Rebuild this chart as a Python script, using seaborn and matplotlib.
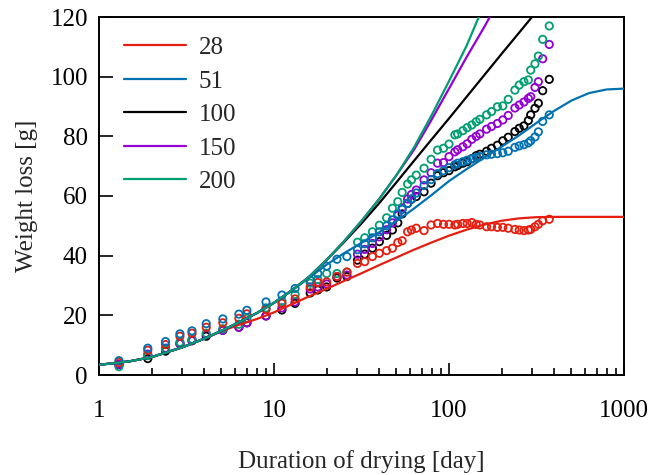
import numpy as np
import pandas as pd
import matplotlib
matplotlib.use("Agg")
import matplotlib.pyplot as plt
import seaborn as sns

# ---------------- data ----------------
series_names = ["28", "51", "100", "150", "200"]
colors = {"28": "#e51e10", "51": "#0072b2", "100": "#000000",
          "150": "#9400d3", "200": "#009e73"}

days = [1.3, 1.9, 2.4, 2.9, 3.4, 4.1, 5.1, 6.3, 7.0, 9.0, 11.1, 13.2, 16.1, 17.8, 20.0,
        22.9, 26.1, 30, 33, 36.5, 40, 44, 47.5, 51, 54,
        58, 61, 65, 72, 79, 86, 93, 100, 108, 112,
        120, 127, 135, 143, 150, 164, 175, 189, 203, 218,
        238, 252, 268, 284, 293, 310, 324, 343, 374]

meas_28 = [4.2, 8.3, 10.2, 13.0, 14.0, 16.0, 17.5, 19.0, 20.5, 22.0, 24.0, 25.5, 29.5, 31.0, 31.2,
           33, 34.5, 37.4, 38, 39.7, 40.8, 41.7, 42.5, 44.4, 45,
           48, 48.6, 49.2, 48.4, 50.3, 50.8, 50.5, 50.5, 50.3, 50.5,
           50.8, 50.8, 51.1, 50.5, 50.3, 49.7, 49.7, 49.5, 49.5, 49.2,
           48.8, 48.6, 48.4, 48.6, 48.8, 49.7, 50.5, 51.7, 52.2]
meas_51 = [4.8, 9.0, 11.2, 13.8, 14.8, 17.2, 18.8, 20.4, 21.7, 24.5, 26.8, 29.0, 31.8, 34.0, 36.5,
           38.8, 39.7, 42, 44, 46, 48, 50, 52, 54, 55.5,
           57.5, 59, 61, 63.5, 65.5, 67.5, 68.5, 69.5, 70.5, 71,
           71.5, 72, 72.5, 73, 73.2, 73.8, 74, 74.2, 74.5, 75,
           76.3, 76.8, 77.2, 77.8, 78.5, 79.8, 81.5, 85, 87.2]
meas_100 = [3.5, 5.5, 8.0, 10.5, 11.5, 13.0, 15.0, 16.0, 17.5, 19.8, 21.8, 24.0, 27.5, 28.5, 29.5,
            32.5, 33, 38.5, 40.5, 42.5, 44.7, 46.8, 48.6, 51, 54,
            57.5, 58.9, 59.8, 61.4, 64.3, 66.8, 67.8, 68.5, 69.8, 70.2,
            71, 71.5, 72.5, 73.5, 74, 75, 76, 77, 78.5, 79.7,
            81.6, 82.7, 83.5, 85.3, 87.2, 89.4, 91.1, 95.3, 99.1]
meas_150 = [3.5, 7.0, 9.0, 10.5, 11.5, 13.5, 15.0, 16.0, 17.5, 19.8, 22.5, 24.5, 28.8, 29.5, 30.5,
            33, 33.5, 40.5, 42.1, 44.1, 46.3, 48.7, 51, 53.5, 56,
            59, 60.5, 62, 65.4, 67.8, 71, 71.2, 73.2, 74.8, 75.5,
            76.5, 77.5, 79, 80, 80.8, 82.4, 83.3, 84.3, 85.5, 87,
            89.5, 90.5, 91.5, 92.7, 93.3, 96.4, 98.3, 106, 110.8]
meas_200 = [2.8, 6.5, 8.5, 11.0, 12.0, 14.0, 15.5, 17.0, 19.0, 22.5, 24.8, 27.0, 30.8, 32.0, 34.0,
            34, 34.5, 44.5, 46, 48, 50.2, 52.7, 55.9, 58.1, 61.2,
            64, 65.4, 67, 69.3, 72.3, 75.4, 76, 77.4, 80.5, 80.8,
            81.9, 82.9, 83.8, 84.9, 85.7, 87.2, 88.3, 89.9, 90.2, 92.4,
            95.5, 97.2, 98.3, 98.9, 102.2, 104.3, 106.9, 112.5, 117]

# model curves
model_x_28 = [1, 1.5, 2, 3, 4, 5, 6, 7, 8, 10, 12.6, 15.8, 20, 25.1, 31.6, 39.8, 50.1, 63.1, 79.4,
              100, 125.9, 158.5, 199.5, 251.2, 316.2, 398.1, 1000]
model_y_28 = [3.4, 4.6, 6.0, 9.3, 12.2, 14.6, 16.4, 17.7, 18.8, 21.0, 23.7, 26.3, 28.9, 31.5, 34.1, 36.8, 39.4, 42.0, 44.4,
              46.7, 48.7, 50.4, 51.7, 52.5, 52.9, 53.0, 53.0]
model_x_51 = [1, 1.5, 2, 3, 4, 5, 6, 8, 10, 12.6, 15.8, 20, 25.1, 31.6, 39.8, 50.1, 63.1, 79.4,
              100, 125.9, 158.5, 199.5, 251.2, 316.2, 398.1, 501.2, 631, 794.3, 1000]
model_y_51 = [3.4, 4.6, 6.0, 9.3, 12.2, 14.8, 17.0, 20.8, 24.2, 28.3, 32.5, 37.0, 40.8, 44.3, 47.8, 51.6, 55.8, 60.3,
              65.0, 69.0, 72.8, 76.5, 80.3, 84.5, 88.5, 92.0, 94.5, 95.7, 96.0]
model_x_100 = [1, 1.5, 2, 3, 4, 5, 6, 8, 10, 12.6, 15.8, 20, 25.1, 31.6, 39.8, 50.1, 63.1, 79.4,
               100, 125.9, 158.5, 199.5, 251.2, 298]
model_y_100 = [3.4, 4.6, 6.0, 9.3, 12.2, 14.8, 17.0, 20.8, 24.2, 28.3, 32.8, 38.6, 44.5, 50.8, 57.5, 64.6, 71.8, 78.9,
               86.0, 93.2, 100.4, 107.6, 114.7, 120]
model_x_150 = [1, 1.5, 2, 3, 4, 5, 6, 8, 10, 12.6, 15.8, 20, 25.1, 31.6, 39.8, 50.1, 63.1, 79.4,
               100, 125.9, 158.5, 171]
model_y_150 = [3.4, 4.6, 6.0, 9.3, 12.2, 14.8, 17.0, 20.8, 24.2, 28.3, 32.8, 38.6, 44.8, 51.6, 58.9, 67.0, 75.5, 85.5,
               96.0, 106.5, 116.5, 120]
model_x_200 = [1, 1.5, 2, 3, 4, 5, 6, 8, 10, 12.6, 15.8, 20, 25.1, 31.6, 39.8, 50.1, 63.1, 79.4,
               100, 125.9, 148]
model_y_200 = [3.4, 4.6, 6.0, 9.3, 12.2, 14.8, 17.0, 20.8, 24.2, 28.3, 32.8, 38.6, 44.8, 51.6, 58.9, 67.0, 76.3, 87.0,
               98.5, 110.3, 120]

x_ticks = [1, 10, 100, 1000]
x_ticklabels = ["1", "10", "100", "1000"]
y_ticks = [0, 20, 40, 60, 80, 100, 120]

meas = {"28": meas_28, "51": meas_51, "100": meas_100, "150": meas_150, "200": meas_200}
models = {"28": (model_x_28, model_y_28), "51": (model_x_51, model_y_51),
          "100": (model_x_100, model_y_100), "150": (model_x_150, model_y_150),
          "200": (model_x_200, model_y_200)}

# ---------------- plot ----------------
sns.set_style("ticks")
plt.rcParams["font.family"] = ["Liberation Serif", "DejaVu Serif"]

fig = plt.figure(figsize=(6.52, 4.75), dpi=100)
ax = fig.add_axes([99 / 652, 1 - 375 / 475, (624 - 99) / 652, (375 - 17) / 475])

FS = 18

for name in ["100", "150", "200", "28", "51"]:
    df = pd.DataFrame({"day": days, "loss": meas[name]})
    n_before = len(ax.collections)
    sns.scatterplot(data=df, x="day", y="loss", ax=ax, marker="o", s=28,
                    color=colors[name], legend=False, zorder=2)
    coll = ax.collections[n_before]
    coll.set_facecolor("none")
    coll.set_edgecolor(colors[name])
    coll.set_linewidth(1.3)

for name in ["28", "51", "100", "150", "200"]:
    mx, my = models[name]
    df = pd.DataFrame({"day": mx, "loss": my})
    sns.lineplot(data=df, x="day", y="loss", ax=ax, color=colors[name],
                 linewidth=1.6, label=name, estimator=None, sort=False, zorder=3)

ax.set_xscale("log")
ax.set_xlim(1, 1000)
ax.set_ylim(0, 120)
ax.set_xticks(x_ticks)
ax.set_xticklabels(x_ticklabels)
ax.set_yticks(y_ticks)

for s in ax.spines.values():
    s.set_visible(True)
    s.set_linewidth(1.4)
    s.set_color("black")

ax.tick_params(axis="both", which="both", direction="in", top=False, right=False,
               labelsize=FS, width=1.2, colors="black")
ax.tick_params(axis="x", which="major", length=9, pad=18)
ax.tick_params(axis="x", which="minor", length=5)
ax.tick_params(axis="y", which="major", length=10, pad=8)

ax.set_xlabel("Duration of drying [day]", fontsize=FS, labelpad=20)
ax.set_ylabel("Weight loss [g]", fontsize=FS, labelpad=9)

handles, labels = ax.get_legend_handles_labels()
leg = ax.legend(handles, labels, loc="upper left", bbox_to_anchor=(0.048, 0.945),
                frameon=False, fontsize=FS, handlelength=2.48, handletextpad=0.5,
                labelspacing=0.44, borderpad=0, borderaxespad=0)

fig.savefig("out.png", dpi=100)
